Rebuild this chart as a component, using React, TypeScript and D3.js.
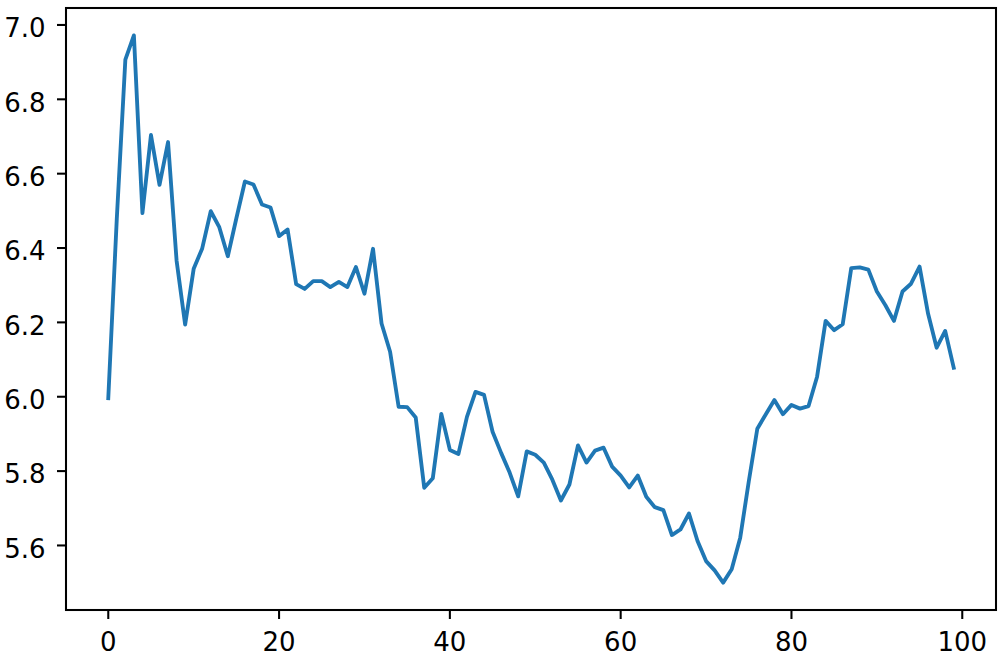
import React, { useEffect, useRef } from "react";
import * as d3 from "d3";

const xValues: number[] = Array.from({ length: 100 }, (_, i) => i);
const yValues: number[] = [
  5.996, 6.48, 6.907, 6.972, 6.494, 6.704, 6.57, 6.685, 6.366, 6.194,
  6.344, 6.399, 6.499, 6.456, 6.378, 6.48, 6.579, 6.571, 6.517, 6.509,
  6.432, 6.45, 6.303, 6.29, 6.311, 6.311, 6.295, 6.309, 6.295, 6.349,
  6.277, 6.398, 6.197, 6.121, 5.973, 5.972, 5.944, 5.755, 5.781, 5.954,
  5.857, 5.846, 5.946, 6.013, 6.005, 5.906, 5.849, 5.796, 5.732, 5.853,
  5.844, 5.823, 5.777, 5.721, 5.764, 5.869, 5.823, 5.855, 5.863, 5.812,
  5.788, 5.756, 5.788, 5.731, 5.703, 5.695, 5.628, 5.643, 5.686, 5.612,
  5.558, 5.533, 5.5, 5.536, 5.621, 5.772, 5.914, 5.953, 5.991, 5.953,
  5.978, 5.968, 5.975, 6.054, 6.204, 6.179, 6.195, 6.346, 6.348, 6.342,
  6.283, 6.246, 6.204, 6.283, 6.304, 6.35, 6.223, 6.132, 6.177, 6.078,
];
const xTicks: number[] = [0, 20, 40, 60, 80, 100];
const yTicks: number[] = [5.6, 5.8, 6.0, 6.2, 6.4, 6.6, 6.8, 7.0];

const W = 1004;
const H = 659;
const M = { left: 66, right: 996, top: 8, bottom: 610 };

export default function App() {
  const ref = useRef<SVGSVGElement>(null);
  useEffect(() => {
    document.body.style.margin = "0";
    const svg = d3.select(ref.current);
    svg.selectAll("*").remove();

    const [x0, x1] = d3.extent(xValues) as [number, number];
    const [y0, y1] = d3.extent(yValues) as [number, number];
    const xp = (x1 - x0) * 0.05;
    const yp = (y1 - y0) * 0.05;
    const x = d3.scaleLinear().domain([x0 - xp, x1 + xp]).range([M.left, M.right]);
    const y = d3.scaleLinear().domain([y0 - yp, y1 + yp]).range([M.bottom, M.top]);

    const font = "'DejaVu Sans', sans-serif";
    const fs = 26;
    const tickLen = 9;
    const spineW = 2.06;

    const line = d3
      .line<number>()
      .x((_, i) => x(xValues[i]))
      .y((d) => y(d));

    svg
      .append("path")
      .datum(yValues)
      .attr("d", line)
      .attr("fill", "none")
      .attr("stroke", "#1f77b4")
      .attr("stroke-width", 3.85)
      .attr("stroke-linejoin", "round")
      .attr("stroke-linecap", "square");

    const gx = svg.append("g");
    xTicks.forEach((t) => {
      gx.append("line")
        .attr("x1", x(t))
        .attr("x2", x(t))
        .attr("y1", M.bottom)
        .attr("y2", M.bottom + tickLen)
        .attr("stroke", "#000")
        .attr("stroke-width", spineW);
      gx.append("text")
        .attr("x", x(t))
        .attr("y", 651)
        .attr("text-anchor", "middle")
        .attr("font-family", font)
        .attr("font-size", fs)
        .attr("fill", "#000")
        .text(d3.format("d")(t));
    });

    const gy = svg.append("g");
    yTicks.forEach((t) => {
      gy.append("line")
        .attr("x1", M.left - tickLen)
        .attr("x2", M.left)
        .attr("y1", y(t))
        .attr("y2", y(t))
        .attr("stroke", "#000")
        .attr("stroke-width", spineW);
      gy.append("text")
        .attr("x", 45.5)
        .attr("y", y(t) + 12.3)
        .attr("text-anchor", "end")
        .attr("font-family", font)
        .attr("font-size", fs)
        .attr("fill", "#000")
        .text(d3.format(".1f")(t));
    });

    svg
      .append("rect")
      .attr("x", M.left)
      .attr("y", M.top)
      .attr("width", M.right - M.left)
      .attr("height", M.bottom - M.top)
      .attr("fill", "none")
      .attr("stroke", "#000")
      .attr("stroke-width", spineW);
  }, []);

  return (
    <svg
      ref={ref}
      width={W}
      height={H}
      style={{ display: "block", background: "#fff" }}
    />
  );
}
